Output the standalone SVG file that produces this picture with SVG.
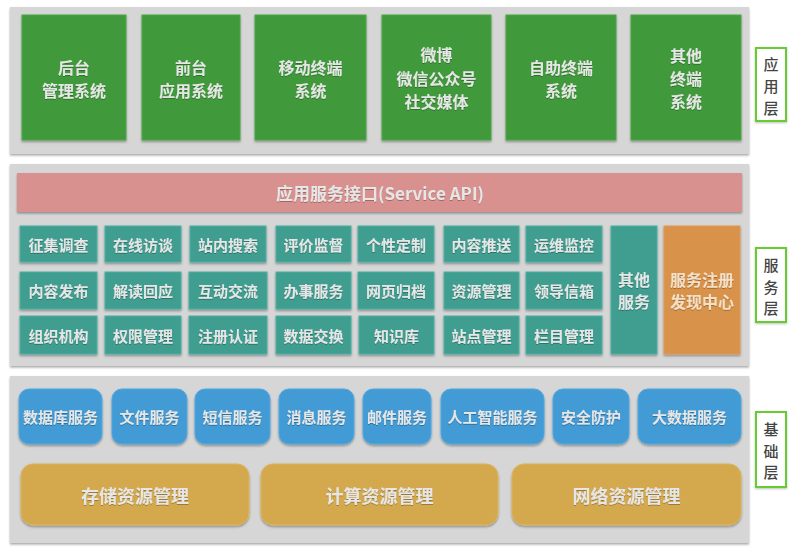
<svg xmlns="http://www.w3.org/2000/svg" width="800" height="552" viewBox="0 0 800 552">
<defs>
<filter id="sh" x="-10%" y="-10%" width="120%" height="130%">
<feDropShadow dx="0" dy="1.5" stdDeviation="1.2" flood-color="#000" flood-opacity="0.35"/>
</filter>
<filter id="tsh" x="-10%" y="-20%" width="120%" height="150%">
<feDropShadow dx="0" dy="0.8" stdDeviation="0.6" flood-color="#000" flood-opacity="0.35"/>
</filter>
<filter id="lsh" x="-20%" y="-10%" width="140%" height="125%">
<feDropShadow dx="0" dy="1" stdDeviation="1" flood-color="#000" flood-opacity="0.25"/>
</filter>
</defs>
<style>
text{font-family:"Noto Sans CJK SC","Liberation Sans",sans-serif;text-anchor:middle;dominant-baseline:central}
.panel{fill:#d6d6d6;filter:url(#sh)}
.app{fill:#3f9a3a;stroke:#4aa844;stroke-width:1;filter:url(#sh)}
.svc{fill:#3f9e91;stroke:#4cb0a2;stroke-width:1;filter:url(#sh)}
.reg{fill:#d9924a;stroke:#e09a55;stroke-width:1;filter:url(#sh)}
.api{fill:#d9918f;filter:url(#sh)}
.base{fill:#439bd5;stroke:#4ea8e0;stroke-width:1;filter:url(#sh)}
.res{fill:#d4a94e;stroke:#dcb45a;stroke-width:1;filter:url(#sh)}
.lbl{fill:#ffffff;stroke:#66cc33;stroke-width:2;filter:url(#lsh)}
.t{fill:#e6e6e6;font-weight:bold;filter:url(#tsh)}
.t16{font-size:16px}
.t15{font-size:15px}
.t18{font-size:18px}
.tr{fill:#f3e0c8;font-weight:bold;font-size:16px;filter:url(#tsh)}
.lt{fill:#444444;font-size:15px;font-weight:500}
</style>

<g id="app-layer">
<rect class="panel" x="10" y="7" width="739" height="147"/>
<g id="n-houtai"><rect class="app" x="22" y="15" width="104" height="125"/><text class="t t16" x="74" y="67">后台</text><text class="t t16" x="74" y="90">管理系统</text></g>
<g id="n-qiantai"><rect class="app" x="142" y="15" width="98" height="125"/><text class="t t16" x="191" y="67">前台</text><text class="t t16" x="191" y="90">应用系统</text></g>
<g id="n-mobile"><rect class="app" x="255" y="15" width="111" height="125"/><text class="t t16" x="310.5" y="67">移动终端</text><text class="t t16" x="310.5" y="90">系统</text></g>
<g id="n-weibo"><rect class="app" x="382" y="15" width="109" height="125"/><text class="t t16" x="436.5" y="54">微博</text><text class="t t16" x="436.5" y="78">微信公众号</text><text class="t t16" x="436.5" y="101">社交媒体</text></g>
<g id="n-selfservice"><rect class="app" x="506" y="15" width="110" height="125"/><text class="t t16" x="561" y="67">自助终端</text><text class="t t16" x="561" y="90">系统</text></g>
<g id="n-other-term"><rect class="app" x="631" y="15" width="110" height="125"/><text class="t t16" x="686" y="55">其他</text><text class="t t16" x="686" y="78">终端</text><text class="t t16" x="686" y="101">系统</text></g>
<g id="lbl-app"><rect class="lbl" x="756" y="48" width="30" height="73"/><text class="lt" x="771" y="63">应</text><text class="lt" x="771" y="85">用</text><text class="lt" x="771" y="107">层</text></g>
</g>

<g id="svc-layer">
<rect class="panel" x="10" y="164" width="739" height="202"/>
<g id="n-api"><rect class="api" x="17" y="173" width="725" height="39"/><text class="t" x="380" y="192" style="font-size:17px">应用服务接口(Service API)</text></g>
<g id="n-r1c1"><rect class="svc" x="20" y="226" width="77" height="36"/><text class="t t15" x="58.5" y="244">征集调查</text></g>
<g id="n-r1c2"><rect class="svc" x="105" y="226" width="76" height="36"/><text class="t t15" x="143" y="244">在线访谈</text></g>
<g id="n-r1c3"><rect class="svc" x="190" y="226" width="76" height="36"/><text class="t t15" x="228" y="244">站内搜索</text></g>
<g id="n-r1c4"><rect class="svc" x="276" y="226" width="75" height="36"/><text class="t t15" x="313.5" y="244">评价监督</text></g>
<g id="n-r1c5"><rect class="svc" x="358" y="226" width="76" height="36"/><text class="t t15" x="396" y="244">个性定制</text></g>
<g id="n-r1c6"><rect class="svc" x="444" y="226" width="75" height="36"/><text class="t t15" x="481.5" y="244">内容推送</text></g>
<g id="n-r1c7"><rect class="svc" x="526" y="226" width="76" height="36"/><text class="t t15" x="564" y="244">运维监控</text></g>

<g id="n-r2c1"><rect class="svc" x="20" y="272" width="77" height="37"/><text class="t t15" x="58.5" y="290.5">内容发布</text></g>
<g id="n-r2c2"><rect class="svc" x="105" y="272" width="76" height="37"/><text class="t t15" x="143" y="290.5">解读回应</text></g>
<g id="n-r2c3"><rect class="svc" x="189" y="272" width="78" height="37"/><text class="t t15" x="228" y="290.5">互动交流</text></g>
<g id="n-r2c4"><rect class="svc" x="276" y="272" width="75" height="37"/><text class="t t15" x="313.5" y="290.5">办事服务</text></g>
<g id="n-r2c5"><rect class="svc" x="358" y="272" width="76" height="37"/><text class="t t15" x="396" y="290.5">网页归档</text></g>
<g id="n-r2c6"><rect class="svc" x="444" y="272" width="75" height="37"/><text class="t t15" x="481.5" y="290.5">资源管理</text></g>
<g id="n-r2c7"><rect class="svc" x="526" y="272" width="76" height="37"/><text class="t t15" x="564" y="290.5">领导信箱</text></g>

<g id="n-r3c1"><rect class="svc" x="20" y="316" width="77" height="38"/><text class="t t15" x="58.5" y="335">组织机构</text></g>
<g id="n-r3c2"><rect class="svc" x="105" y="316" width="76" height="38"/><text class="t t15" x="143" y="335">权限管理</text></g>
<g id="n-r3c3"><rect class="svc" x="189" y="316" width="78" height="38"/><text class="t t15" x="228" y="335">注册认证</text></g>
<g id="n-r3c4"><rect class="svc" x="276" y="316" width="75" height="38"/><text class="t t15" x="313.5" y="335">数据交换</text></g>
<g id="n-r3c5"><rect class="svc" x="359" y="316" width="75" height="38"/><text class="t t15" x="396.5" y="335">知识库</text></g>
<g id="n-r3c6"><rect class="svc" x="444" y="316" width="75" height="38"/><text class="t t15" x="481.5" y="335">站点管理</text></g>
<g id="n-r3c7"><rect class="svc" x="526" y="316" width="76" height="38"/><text class="t t15" x="564" y="335">栏目管理</text></g>

<g id="n-other-svc"><rect class="svc" x="611" y="226" width="46" height="128"/><text class="t t16" x="634" y="279">其他</text><text class="t t16" x="634" y="301">服务</text></g>
<g id="n-registry"><rect class="reg" x="664" y="226" width="76" height="128"/><text class="tr" x="702" y="279">服务注册</text><text class="tr" x="702" y="301">发现中心</text></g>
<g id="lbl-svc"><rect class="lbl" x="756" y="248" width="30" height="74"/><text class="lt" x="771" y="264">服</text><text class="lt" x="771" y="286">务</text><text class="lt" x="771" y="307">层</text></g>
</g>

<g id="base-layer">
<rect class="panel" x="10" y="376" width="739" height="167"/>
<g id="n-db"><rect class="base" x="19" y="389" width="83" height="55" rx="10"/><text class="t t15" x="60.5" y="416.5">数据库服务</text></g>
<g id="n-file"><rect class="base" x="112" y="389" width="75" height="55" rx="10"/><text class="t t15" x="149.5" y="416.5">文件服务</text></g>
<g id="n-sms"><rect class="base" x="195" y="389" width="75" height="55" rx="10"/><text class="t t15" x="232.5" y="416.5">短信服务</text></g>
<g id="n-msg"><rect class="base" x="279" y="389" width="75" height="55" rx="10"/><text class="t t15" x="316.5" y="416.5">消息服务</text></g>
<g id="n-mail"><rect class="base" x="363" y="389" width="68" height="55" rx="10"/><text class="t t15" x="397" y="416.5">邮件服务</text></g>
<g id="n-ai"><rect class="base" x="441" y="389" width="103" height="55" rx="10"/><text class="t t15" x="492.5" y="416.5">人工智能服务</text></g>
<g id="n-sec"><rect class="base" x="553" y="389" width="76" height="55" rx="10"/><text class="t t15" x="591" y="416.5">安全防护</text></g>
<g id="n-bigdata"><rect class="base" x="638" y="389" width="103" height="55" rx="10"/><text class="t t15" x="689.5" y="416.5">大数据服务</text></g>
<g id="n-storage"><rect class="res" x="21" y="464" width="228" height="61" rx="12"/><text class="t t18" x="135" y="494.5">存储资源管理</text></g>
<g id="n-compute"><rect class="res" x="261" y="464" width="237" height="61" rx="12"/><text class="t t18" x="379.5" y="494.5">计算资源管理</text></g>
<g id="n-network"><rect class="res" x="512" y="464" width="229" height="61" rx="12"/><text class="t t18" x="626.5" y="494.5">网络资源管理</text></g>
<g id="lbl-base"><rect class="lbl" x="756" y="412" width="30" height="75"/><text class="lt" x="771" y="428">基</text><text class="lt" x="771" y="450">础</text><text class="lt" x="771" y="471">层</text></g>
</g>

<g id="connectors"></g>
</svg>
